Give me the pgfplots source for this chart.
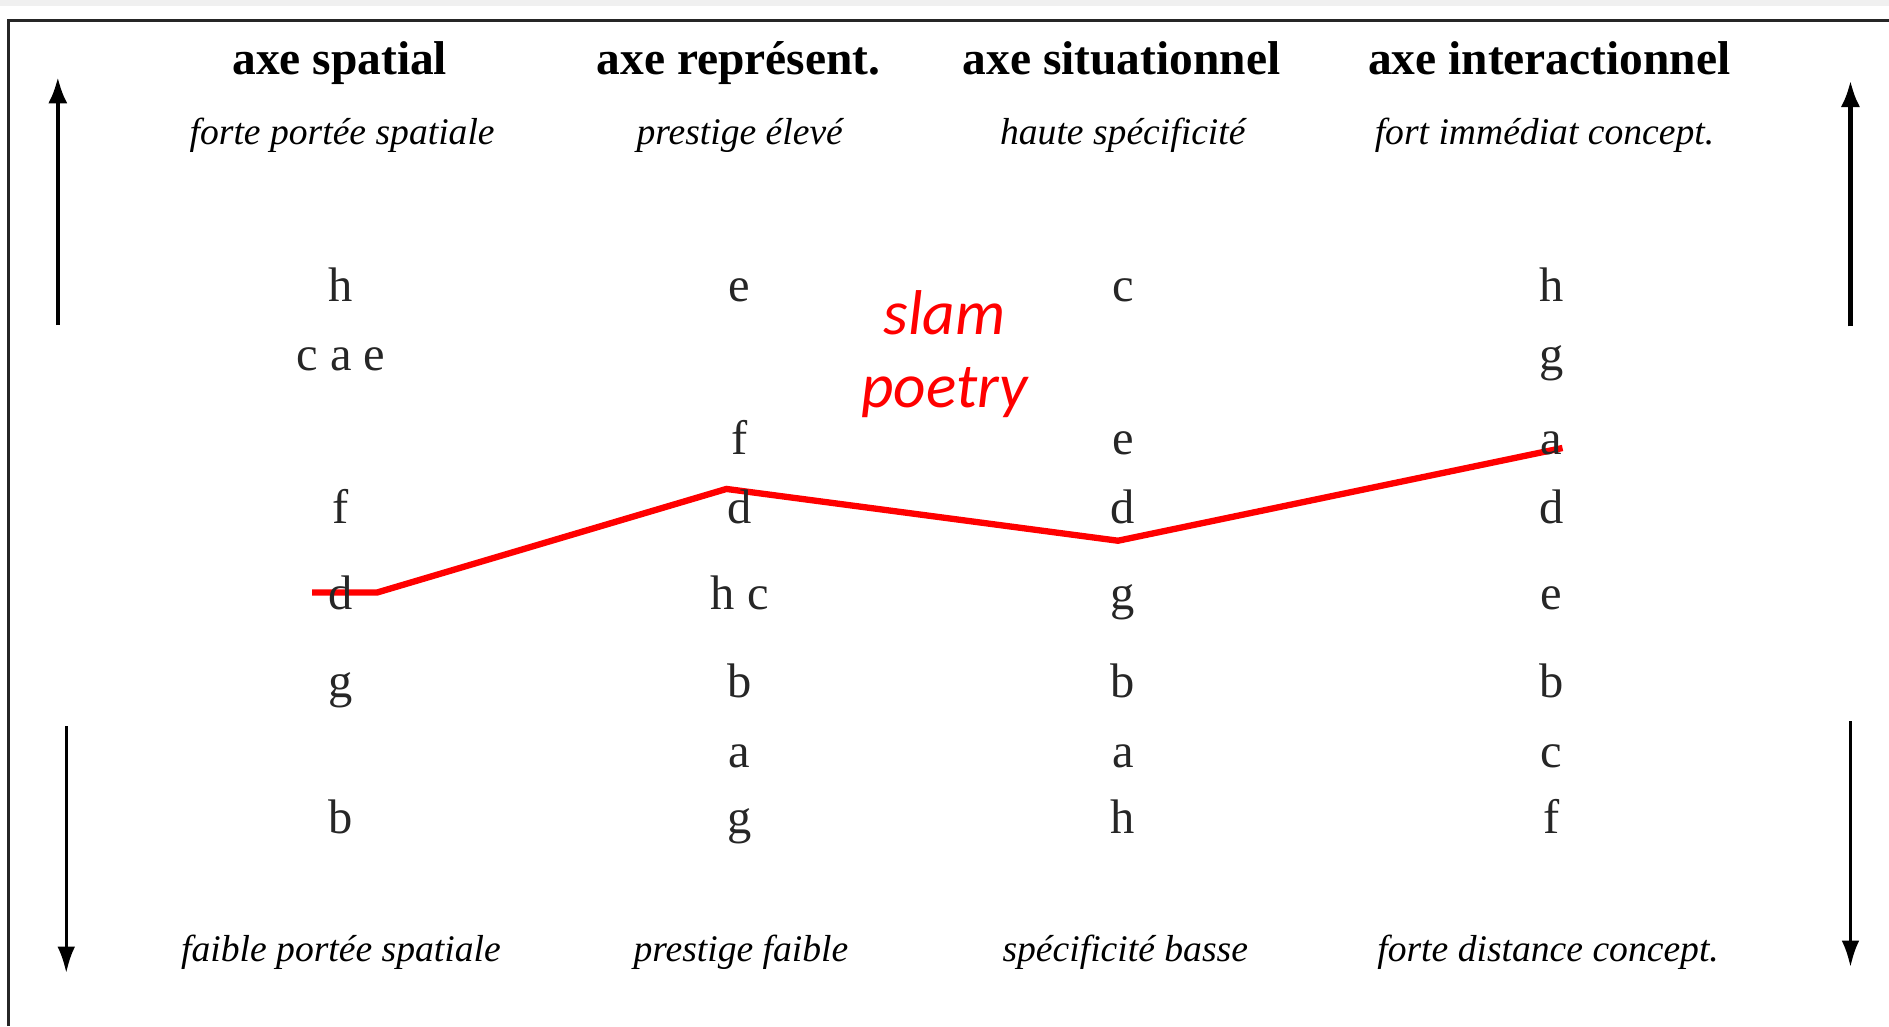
\documentclass[border=0pt]{standalone}
\usepackage{pgfplots}
\usepackage{pgfplotstable}
\usepackage{fontspec}
\pgfplotsset{compat=1.18}
\usetikzlibrary{arrows.meta}
\setmainfont{Liberation Serif}
\newfontfamily\carlito{Carlito}

% positions in px of a 1568x852 canvas, y downward; y = baseline of the letter
\pgfplotstableread[col sep=comma]{
x,y,lab
283,250,h
283,308,c a e
283,435,f
283,506,d
283,579,g
283,692,b
614,250,e
614,377,f
614,435,d
614,506,h c
614,579,b
614,637,a
614,692,g
932,250,c
932,377,e
932,435,d
932,506,g
932,579,b
932,637,a
932,692,h
1288,250,h
1288,308,g
1288,377,a
1288,435,d
1288,506,e
1288,579,b
1288,637,c
1288,692,f
}\letters

\begin{document}
\begin{tikzpicture}
\begin{axis}[
  width=18.89cm, height=10.26cm, scale only axis,
  hide axis, clip=false,
  xmin=0, xmax=1568, ymin=0, ymax=852, y dir=reverse,
]
  % frame
  \fill[gray!12] (axis cs:0,0) rectangle (axis cs:1568,5);
  \draw[line width=0.7pt, black!85] (axis cs:7,852) -- (axis cs:7,17) -- (axis cs:1568,17);

  % arrows at both sides
  \draw[line width=1.2pt, -{Latex[length=7.5pt,width=5.5pt]}] (axis cs:48,270) -- (axis cs:48,64);
  \draw[line width=1.2pt, -{Latex[length=7.5pt,width=5.5pt]}] (axis cs:1536,271) -- (axis cs:1536,67);
  \draw[line width=0.9pt, -{Latex[length=7.5pt,width=5pt]}] (axis cs:55,603) -- (axis cs:55,808);
  \draw[line width=0.9pt, -{Latex[length=7.5pt,width=5pt]}] (axis cs:1536,599) -- (axis cs:1536,803);

  % column heads
  \begin{scope}[every node/.style={anchor=base, inner sep=0pt, font=\fontsize{13.5}{16}\selectfont\bfseries}]
    \node at (axis cs:282,62) {axe spatial};
    \node at (axis cs:613,62) {axe représent.};
    \node at (axis cs:931,62) {axe situationnel};
    \node at (axis cs:1286,62) {axe interactionnel};
  \end{scope}
  \begin{scope}[every node/.style={anchor=base, inner sep=0pt, font=\fontsize{10.7}{13}\selectfont\itshape}]
    \node at (axis cs:284,120) {forte portée spatiale};
    \node at (axis cs:614,120) {prestige élevé};
    \node at (axis cs:932,120) {haute spécificité};
    \node at (axis cs:1282,120) {fort immédiat concept.};
    \node at (axis cs:283,798) {faible portée spatiale};
    \node at (axis cs:615,798) {prestige faible};
    \node at (axis cs:934,798) {spécificité basse};
    \node at (axis cs:1285,798) {forte distance concept.};
  \end{scope}

  % ranked letters
  \addplot[only marks, mark=none, nodes near coords, point meta=explicit symbolic,
    nodes near coords style={anchor=base, inner sep=0pt, font=\fontsize{13.8}{16}\selectfont, black!85}]
    table[x=x, y=y, meta=lab] {\letters};

  % slam poetry profile
  \addplot[red, line width=1.8pt, mark=none] coordinates {
    (259,492) (313,492) (603,406) (928,449) (1297,372)
  };
  \node[anchor=base, red, inner sep=0pt, font=\carlito\itshape\fontsize{18}{21}\selectfont] at (axis cs:784,278) {slam};
  \node[anchor=base, red, inner sep=0pt, font=\carlito\itshape\fontsize{18}{21}\selectfont] at (axis cs:784,338) {poetry};
\end{axis}
\pgfresetboundingbox
\path[use as bounding box] (current axis.south west) rectangle (current axis.north east);
\end{tikzpicture}
\end{document}
